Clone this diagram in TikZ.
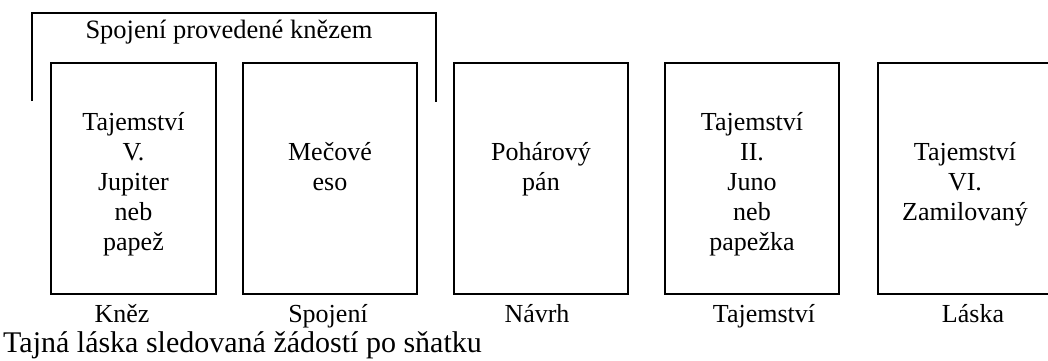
\documentclass[tikz,border=0pt]{standalone}
\usepackage{fontspec}
\setmainfont{Liberation Serif}
\begin{document}
\begin{tikzpicture}[x=1pt,y=-1pt,
  every node/.style={font=\fontsize{26}{30}\selectfont, inner sep=0pt},
  card/.style={draw, line width=1.6pt, minimum height=231pt, inner sep=0pt},
  cardtext/.style={anchor=base},
  lbl/.style={anchor=base},
  bracket/.style={line width=1.4pt}]
\useasboundingbox (0,0) rectangle (1048,360);
% cards
\node[card, minimum width=165pt] (b1) at (133.5,178.5) {};
\node[card, minimum width=174pt] (b2) at (330,178.5) {};
\node[card, minimum width=174pt] (b3) at (541,178.5) {};
\node[card, minimum width=174pt] (b4) at (752,178.5) {};
\node[card, minimum width=174pt] (b5) at (965,178.5) {};
% card texts
\node[cardtext] (t1) at (133.5,130) {\begin{tabular}[t]{@{}c@{}}Tajemství\\V.\\Jupiter\\neb\\papež\end{tabular}};
\node[cardtext] (t2) at (330,160) {\begin{tabular}[t]{@{}c@{}}Mečové\\eso\end{tabular}};
\node[cardtext] (t3) at (541,160) {\begin{tabular}[t]{@{}c@{}}Pohárový\\pán\end{tabular}};
\node[cardtext] (t4) at (752,130) {\begin{tabular}[t]{@{}c@{}}Tajemství\\II.\\Juno\\neb\\papežka\end{tabular}};
\node[cardtext] (t5) at (965,160) {\begin{tabular}[t]{@{}c@{}}Tajemství\\VI.\\Zamilovaný\end{tabular}};
% labels below
\node[lbl] (l1) at (122,322) {Kněz};
\node[lbl] (l2) at (328,322) {Spojení};
\node[lbl] (l3) at (537,322) {Návrh};
\node[lbl] (l4) at (764,322) {Tajemství};
\node[lbl] (l5) at (973,322) {Láska};
% caption
\node[anchor=base west, font=\fontsize{30}{34}\selectfont] (cap) at (3,352) {Tajná láska sledovaná žádostí po sňatku};
% bracket and title
\coordinate (bl) at (32,101);
\coordinate (tl) at (32,13);
\coordinate (tr) at (436,13);
\coordinate (br) at (436,102);
\draw[bracket] (bl) -- (tl) -- (tr) -- (br);
\node[anchor=base, font=\fontsize{26.5}{30}\selectfont] (title) at (229,38) {Spojení provedené knězem};
\end{tikzpicture}
\end{document}
